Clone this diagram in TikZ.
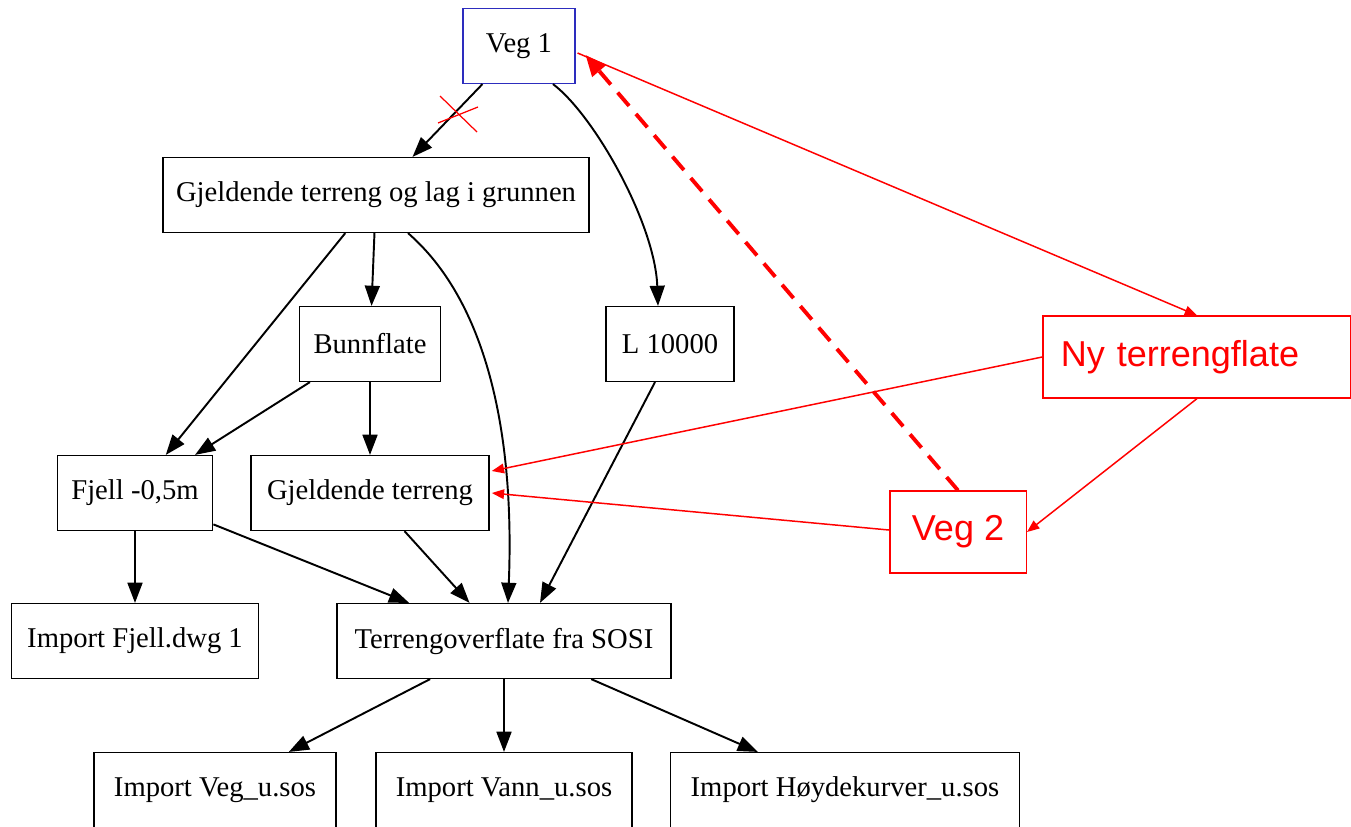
\documentclass[tikz,border=0pt]{standalone}
\usepackage{fontspec}
\setmainfont{Liberation Serif}
\newfontfamily\notefont{Liberation Sans}
\usetikzlibrary{shapes,arrows,arrows.meta}
\definecolor{vegblue}{RGB}{45,45,190}
\tikzstyle{block} = [rectangle, draw=black, line width=0.85pt, minimum height=42.5pt, inner sep=0pt, font=\fontsize{16.3}{19}\selectfont]
\tikzstyle{note} = [rectangle, draw=red, line width=0.85pt, minimum height=46.5pt, inner sep=0pt, text=red, font=\notefont\fontsize{20.5}{24}\selectfont]
\tikzstyle{arrow} = [line width=1.1pt,-{Triangle[length=11.5pt,width=8.5pt]}]
\tikzstyle{redarrow} = [red, line width=0.85pt,-{Triangle[length=7pt,width=5.5pt]}]
\tikzstyle{dasharrow} = [red, line width=2.2pt, dash pattern=on 10pt off 6pt,-{Triangle[length=12pt,width=10pt]}]

\begin{document}
\begin{tikzpicture}[x=0.02cm, y=-0.02cm]
    \useasboundingbox (0,0) rectangle (1351,826);
    % Place nodes
    \node [block, draw=vegblue, minimum width=63.5pt] (veg1) at (519,46) {Veg 1};
    \node [block, minimum width=242.6pt] (gtl) at (376,195) {Gjeldende terreng og lag i grunnen};
    \node [block, minimum width=80pt] (bunn) at (370,344) {Bunnflate};
    \node [block, minimum width=72.6pt] (l10000) at (670,344) {L 10000};
    \node [block, minimum width=88.4pt] (fjell) at (135,493) {Fjell -0,5m};
    \node [block, minimum width=135.5pt] (gt) at (370,493) {Gjeldende terreng};
    \node [block, minimum width=140.6pt] (impfjell) at (135,641) {Import Fjell.dwg 1};
    \node [block, minimum width=190pt] (sosi) at (504,641) {Terrengoverflate fra SOSI};
    \node [block, minimum width=137.8pt] (impveg) at (215,790) {Import Veg\_u.sos};
    \node [block, minimum width=145.7pt] (impvann) at (504,790) {Import Vann\_u.sos};
    \node [block, minimum width=198.4pt] (imphoyde) at (845,790) {Import Høydekurver\_u.sos};

    % Notes
    \node [note, text width=155pt, align=left, inner xsep=10.2pt] (ny) at (1197,357) {Ny terrengflate};
    \node [note, minimum width=77.7pt] (veg2) at (958,532) {Veg 2};

    \draw [arrow] (veg1) -- (gtl);
    \draw [arrow] ([shift={(34,0)}]veg1.south) .. controls +(42,32) and +(-3,-82) .. ([shift={(-12,0)}]l10000.north);
    \draw [arrow] (gtl) -- (bunn);
    \draw [arrow] (gtl) -- (fjell);
    \draw [arrow] ([shift={(32,0)}]gtl.south) .. controls +(77,67) and +(7,-174) .. ([shift={(4,0)}]sosi.north);
    \draw [arrow] (bunn) -- (fjell);
    \draw [arrow] (bunn) -- (gt);
    \draw [arrow] ([shift={(-15,0)}]l10000.south) -- ([shift={(36,0)}]sosi.north);
    \draw [arrow] (fjell) -- (impfjell);
    \draw [arrow] (fjell) -- (sosi);
    \draw [arrow] (gt) -- (sosi);
    \draw [arrow] (sosi) -- (impveg);
    \draw [arrow] (sosi) -- (impvann);
    \draw [arrow] (sosi) -- (imphoyde);

    % red marks
    \draw [red, line width=0.7pt] (440,96) -- (477,132);
    \draw [red, line width=0.7pt] (438,123) -- (478,107);
    \draw [redarrow] ([shift={(2,7)}]veg1.east) -- (ny.north);
    \draw [redarrow] (ny.west) -- ([shift={(2,-22)}]gt.east);
    \draw [redarrow] ([shift={(0,-2)}]veg2.west) -- ([shift={(2,0)}]gt.east);
    \draw [redarrow] (ny.south) -- (veg2.east);
    \draw [dasharrow] (veg2.north) -- ([shift={(10,9)}]veg1.east);

\end{tikzpicture}
\end{document}
